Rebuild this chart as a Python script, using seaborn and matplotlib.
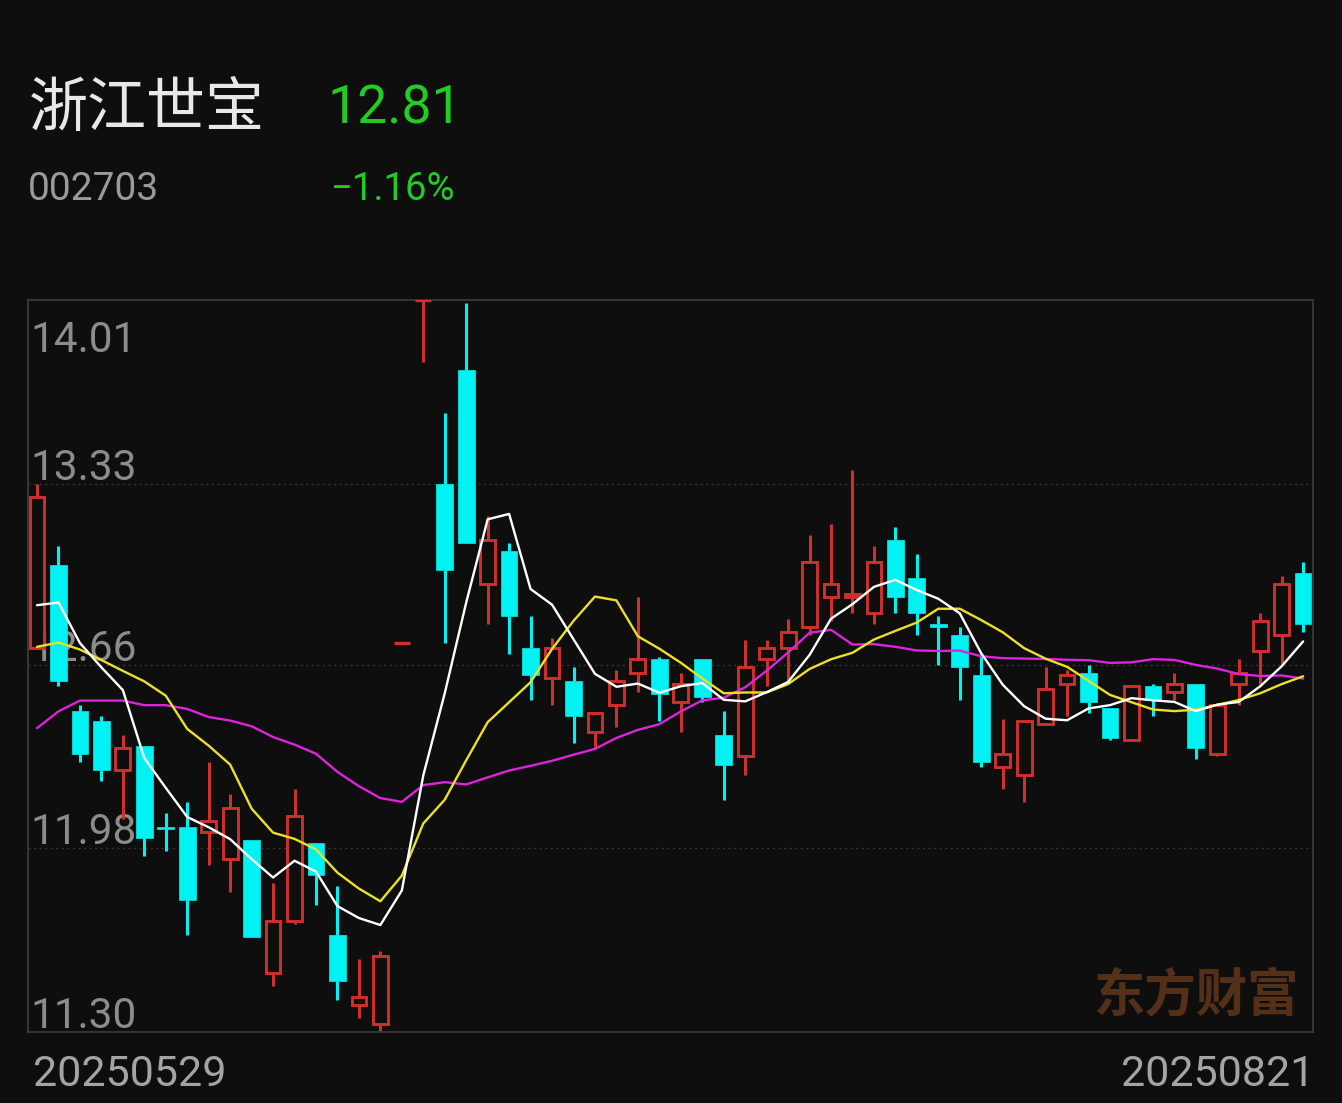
import numpy as np
import pandas as pd
import matplotlib
matplotlib.use("Agg")
import matplotlib.pyplot as plt
import seaborn as sns

# ---------------- data ----------------
opens = [12.72, 13.03, 12.49, 12.45, 12.27, 12.36, 12.06, 12.06, 12.04, 11.94,
         12.01, 11.52, 11.71, 12.00, 11.66, 11.40, 11.33, 12.74, 14.01, 13.33,
         13.75, 12.96, 13.08, 12.72, 12.61, 12.60, 12.41, 12.51, 12.63, 12.68,
         12.52, 12.68, 12.40, 12.32, 12.68, 12.72, 12.80, 12.91, 12.91, 12.85,
         13.12, 12.98, 12.81, 12.77, 12.62, 12.28, 12.25, 12.44, 12.59, 12.63,
         12.50, 12.38, 12.58, 12.56, 12.59, 12.33, 12.59, 12.71, 12.77, 13.00]
highs = [13.33, 13.10, 12.51, 12.47, 12.40, 12.36, 12.11, 12.15, 12.30, 12.18,
         12.01, 11.85, 12.20, 12.00, 11.84, 11.57, 11.60, 12.74, 14.01, 13.59,
         14.00, 13.21, 13.11, 12.84, 12.76, 12.65, 12.48, 12.64, 12.91, 12.69,
         12.63, 12.68, 12.49, 12.75, 12.75, 12.83, 13.14, 13.18, 13.38, 13.10,
         13.17, 13.07, 12.84, 12.80, 12.70, 12.46, 12.45, 12.65, 12.64, 12.66,
         12.50, 12.58, 12.59, 12.63, 12.59, 12.51, 12.68, 12.85, 12.99, 13.04]
lows = [12.72, 12.58, 12.30, 12.23, 12.09, 11.95, 11.97, 11.66, 11.92, 11.82,
        11.65, 11.47, 11.70, 11.77, 11.42, 11.35, 11.30, 12.74, 13.78, 12.74,
        13.11, 12.81, 12.70, 12.53, 12.51, 12.37, 12.35, 12.43, 12.56, 12.45,
        12.41, 12.52, 12.16, 12.25, 12.58, 12.60, 12.77, 12.82, 12.85, 12.81,
        12.85, 12.77, 12.66, 12.53, 12.28, 12.20, 12.15, 12.44, 12.47, 12.48,
        12.38, 12.38, 12.47, 12.53, 12.31, 12.32, 12.51, 12.59, 12.66, 12.78]
closes = [13.28, 12.60, 12.33, 12.27, 12.35, 12.02, 12.05, 11.79, 12.08, 12.13,
          11.65, 11.71, 12.10, 11.88, 11.49, 11.43, 11.58, 12.74, 14.01, 13.01,
          13.11, 13.12, 12.84, 12.62, 12.72, 12.47, 12.48, 12.60, 12.68, 12.55,
          12.59, 12.54, 12.29, 12.65, 12.72, 12.78, 13.04, 12.96, 12.92, 13.04,
          12.91, 12.85, 12.80, 12.65, 12.30, 12.33, 12.45, 12.57, 12.62, 12.52,
          12.39, 12.58, 12.53, 12.59, 12.35, 12.51, 12.63, 12.82, 12.96, 12.81]

ma5 = [12.88, 12.89, 12.74, 12.65, 12.566, 12.314, 12.204, 12.096, 12.058, 12.014,
       11.94, 11.872, 11.934, 11.894, 11.766, 11.722, 11.696, 11.824, 12.25, 12.554,
       12.89, 13.198, 13.218, 12.94, 12.882, 12.754, 12.626, 12.578, 12.59, 12.556,
       12.58, 12.592, 12.53, 12.524, 12.558, 12.596, 12.696, 12.83, 12.884, 12.948,
       12.974, 12.936, 12.904, 12.85, 12.702, 12.586, 12.506, 12.46, 12.454, 12.498,
       12.51, 12.536, 12.528, 12.522, 12.488, 12.512, 12.522, 12.58, 12.654, 12.746]
ma10 = [12.726, 12.742, 12.716, 12.677, 12.637, 12.598, 12.545, 12.422, 12.36, 12.29,
        12.127, 12.038, 12.015, 11.976, 11.89, 11.831, 11.784, 11.879, 12.072, 12.16,
        12.306, 12.447, 12.521, 12.595, 12.718, 12.822, 12.912, 12.898, 12.765, 12.719,
        12.667, 12.609, 12.554, 12.557, 12.557, 12.588, 12.644, 12.68, 12.704, 12.753,
        12.785, 12.816, 12.867, 12.867, 12.825, 12.78, 12.721, 12.682, 12.652, 12.60,
        12.548, 12.521, 12.494, 12.488, 12.493, 12.511, 12.529, 12.554, 12.588, 12.617]
ma20 = [12.425, 12.487, 12.527, 12.527, 12.527, 12.51, 12.51, 12.496, 12.466, 12.453,
        12.432, 12.392, 12.364, 12.33, 12.263, 12.21, 12.166, 12.152, 12.214, 12.225,
        12.2165, 12.2425, 12.268, 12.2855, 12.304, 12.3265, 12.348, 12.3885, 12.4185, 12.4395,
        12.4865, 12.528, 12.5375, 12.576, 12.6375, 12.705, 12.778, 12.789, 12.7345, 12.736,
        12.726, 12.7125, 12.7105, 12.712, 12.691, 12.684, 12.6825, 12.681, 12.678, 12.6765,
        12.6665, 12.6685, 12.6805, 12.6775, 12.659, 12.6455, 12.625, 12.618, 12.62, 12.6085]

y_ticks = [14.01, 13.33, 12.66, 11.98, 11.30]
date_labels = ["20250529", "20250821"]
stock_name = "浙江世宝"
stock_code = "002703"
last_price = "12.81"
change_pct = "\u22121.16%"
watermark = "东方财富"

# ---------------- style ----------------
BG = "#0e0e0e"
RED = "#d0302c"
CYAN = "#00f2f2"
GREEN = "#22cc22"
GRAY = "#8c8c8c"

sns.set_theme(style="dark")
plt.rcParams["font.family"] = ["Roboto", "Noto Sans CJK SC", "DejaVu Sans"]

W, H = 1342, 1103
fig = plt.figure(figsize=(W / 100, H / 100), dpi=100, facecolor=BG)
L, R, T, B = 28, 1313, 300, 1032
ax = fig.add_axes([L / W, (H - B) / H, (R - L) / W, (B - T) / H])
ax.set_facecolor(BG)

n = len(closes)
idx = np.arange(n)
o = np.array(opens); c = np.array(closes); h = np.array(highs); lo = np.array(lows)
up = c >= o
top = np.maximum(o, c); bot = np.minimum(o, c)
flat = np.abs(c - o) < 0.005

# gridlines
for v in y_ticks[1:-1]:
    ax.axhline(v, color="#363636", lw=1.0, ls=(0, (1.5, 2.5)), zorder=0.5)

# wicks
wcol = np.where(up, RED, CYAN)
ax.vlines(idx, top, h, colors=wcol, lw=2.2, zorder=2)
ax.vlines(idx, lo, bot, colors=wcol, lw=2.2, zorder=2)

# bodies
dn = ~up
ax.bar(idx[dn], (o - c)[dn], bottom=c[dn], width=0.78, color=CYAN, edgecolor=CYAN,
       lw=0.5, zorder=3)
uf = up & ~flat
ax.bar(idx[uf], (c - o)[uf], bottom=o[uf], width=0.69, facecolor=BG, edgecolor=RED,
       lw=2.1, zorder=3)
fl = up & flat
ax.hlines(c[fl], idx[fl] - 0.37, idx[fl] + 0.37, colors=RED, lw=2.4, zorder=3)

# moving averages
df = pd.DataFrame({"idx": idx, "MA20": ma20, "MA10": ma10, "MA5": ma5})
long = df.melt(id_vars="idx", var_name="line", value_name="value")
sns.lineplot(data=long, x="idx", y="value", hue="line",
             hue_order=["MA20", "MA10", "MA5"],
             palette={"MA5": "#ffffff", "MA10": "#ece024", "MA20": "#de22de"},
             linewidth=1.7, legend=False, ax=ax, zorder=4)

ax.set_xlim(-0.42, 59.46)
ax.set_ylim(11.30, 14.01)
ax.set_xticks([]); ax.set_yticks([])
ax.set_xlabel(""); ax.set_ylabel("")
ax.grid(False)
for s in ax.spines.values():
    s.set_color("#3a3a3a"); s.set_linewidth(1.3); s.set_visible(True)

# price labels inside the plot
trans = ax.get_yaxis_transform()
for i, v in enumerate(y_ticks):
    dy = -52 if i == 0 else 4
    ax.annotate(f"{v:.2f}", xy=(0, v), xycoords=trans, xytext=(2, dy),
                textcoords="offset pixels", ha="left", va="baseline",
                fontsize=30.5, color=GRAY, zorder=1)

# watermark
fig.text(1093 / W, 1 - 1011 / H, watermark, family=["Noto Sans CJK SC"],
         fontweight="bold", fontsize=37, color="#553019", ha="left", va="baseline")

# header
fig.text(29 / W, 1 - 126 / H, stock_name, family=["Noto Sans CJK SC", "DejaVu Sans"],
         fontsize=42.5, color="#e8e8e8", ha="left", va="baseline")
fig.text(327 / W, 1 - 123 / H, last_price, family=["Roboto", "DejaVu Sans"],
         fontsize=38.5, color=GREEN, ha="left", va="baseline")
fig.text(28 / W, 1 - 200 / H, stock_code, family=["Roboto", "DejaVu Sans"],
         fontsize=28, color="#9a9a9a", ha="left", va="baseline")
fig.text(331 / W, 1 - 200 / H, change_pct, family=["Roboto", "DejaVu Sans"],
         fontsize=27.5, color=GREEN, ha="left", va="baseline")

# date labels
fig.text(33 / W, 1 - 1086 / H, date_labels[0], family=["Roboto", "DejaVu Sans"],
         fontsize=31, color="#a4a4a4", ha="left", va="baseline")
fig.text(1314 / W, 1 - 1086 / H, date_labels[1], family=["Roboto", "DejaVu Sans"],
         fontsize=31, color="#a4a4a4", ha="right", va="baseline")

fig.savefig("out.png", dpi=100, facecolor=BG)
